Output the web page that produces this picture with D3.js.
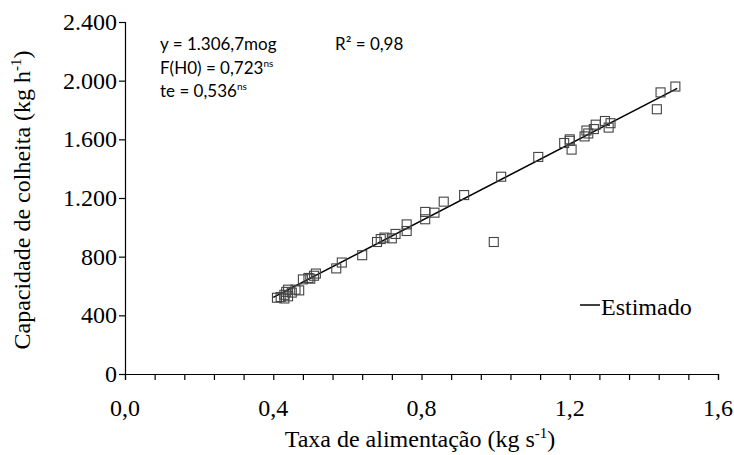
<!DOCTYPE html>
<html>
<head>
<meta charset="utf-8">
<script src="https://cdn.jsdelivr.net/npm/d3@7"></script>
<style>
  html, body { margin: 0; padding: 0; background: #fff; }
  svg { display: block; }
  .serif { font-family: "Liberation Serif", "Tinos", "Times New Roman", "DejaVu Serif", serif; }
  .sans { font-family: "Lato", "Open Sans", "Liberation Sans", sans-serif; }
</style>
</head>
<body>
<svg id="chart" width="734" height="455"></svg>
<script>
// Feed rate (kg s-1) and harvest capacity (kg h-1) observations
const feedRate = [
  0.41, 0.42, 0.43, 0.43, 0.435, 0.44, 0.44, 0.45, 0.46, 0.47,
  0.48, 0.495, 0.50, 0.51, 0.515, 0.57, 0.585, 0.64, 0.68, 0.69,
  0.70, 0.72, 0.73, 0.76, 0.76, 0.81, 0.81, 0.835, 0.86, 0.915,
  1.015, 0.995, 1.115, 1.185, 1.20, 1.20, 1.205, 1.24, 1.245, 1.25,
  1.265, 1.27, 1.295, 1.305, 1.31, 1.435, 1.445, 1.485
];
const capacity = [
  520, 525, 540, 515, 560, 530, 575, 555, 575, 570,
  645, 655, 650, 670, 685, 720, 760, 810, 900, 920,
  930, 925, 955, 975, 1020, 1055, 1105, 1100, 1175, 1220,
  1345, 900, 1480, 1575, 1600, 1590, 1530, 1620, 1660, 1640,
  1670, 1700, 1725, 1680, 1710, 1805, 1920, 1960
];
// Fitted model y = b * x over the observed range
const slope = 1306.7;
const fitRange = [0.40, 1.49];

const xTickLabels = ["0,0", "0,4", "0,8", "1,2", "1,6"];
const xLabelValues = [0, 0.4, 0.8, 1.2, 1.6];
const yTickLabels = ["0", "400", "800", "1.200", "1.600", "2.000", "2.400"];
const yTickValues = [0, 400, 800, 1200, 1600, 2000, 2400];

const svg = d3.select("#chart");
const plotLeft = 125, plotRight = 718, plotTop = 22, plotBottom = 374;

const x = d3.scaleLinear().domain([0, 1.6]).range([plotLeft, plotRight]);
const y = d3.scaleLinear().domain([0, 2400]).range([plotBottom, plotTop]);

// X axis: minor ticks every 0.08, labels every 0.4
const xMinor = d3.range(0, 21).map(i => i * 0.08);
const xAxis = d3.axisBottom(x).tickValues(xMinor).tickSize(6).tickFormat("");
const gx = svg.append("g").attr("transform", `translate(0,${plotBottom})`).call(xAxis);
gx.select(".domain").attr("stroke", "#000").attr("stroke-width", 1.2);
gx.selectAll(".tick line").attr("stroke", "#000").attr("stroke-width", 1.2);

svg.append("g").selectAll("text").data(xLabelValues).join("text")
  .attr("class", "serif")
  .attr("x", d => x(d)).attr("y", 416)
  .attr("text-anchor", "middle")
  .style("font-size", "24px").attr("fill", "#000")
  .text((d, i) => xTickLabels[i]);

// Y axis
const yAxis = d3.axisLeft(y).tickValues(yTickValues).tickSize(6).tickFormat("");
const gy = svg.append("g").attr("transform", `translate(${plotLeft},0)`).call(yAxis);
gy.select(".domain").attr("stroke", "#000").attr("stroke-width", 1.2);
gy.selectAll(".tick line").attr("stroke", "#000").attr("stroke-width", 1.2);

svg.append("g").selectAll("text").data(yTickValues).join("text")
  .attr("class", "serif")
  .attr("x", 117).attr("y", d => y(d) + 8)
  .attr("text-anchor", "end")
  .style("font-size", "24px").attr("fill", "#000")
  .text((d, i) => yTickLabels[i]);

// Axis titles
const xt = svg.append("text").attr("class", "serif")
  .attr("x", 420).attr("y", 447).attr("text-anchor", "middle")
  .style("font-size", "24px").attr("fill", "#000");
xt.append("tspan").text("Taxa de alimentação (kg s");
xt.append("tspan").attr("dy", -9).style("font-size", "15px").text("-1");
xt.append("tspan").attr("dy", 9).text(")");

const yt = svg.append("text").attr("class", "serif")
  .attr("transform", "translate(30,200) rotate(-90)").attr("text-anchor", "middle")
  .style("font-size", "24px").attr("fill", "#000");
yt.append("tspan").text("Capacidade de colheita (kg h");
yt.append("tspan").attr("dy", -9).style("font-size", "15px").text("-1");
yt.append("tspan").attr("dy", 9).text(")");

// Fitted line
svg.append("line")
  .attr("x1", x(fitRange[0])).attr("y1", y(slope * fitRange[0]))
  .attr("x2", x(fitRange[1])).attr("y2", y(slope * fitRange[1]))
  .attr("stroke", "#000").attr("stroke-width", 1.5);

// Observations as open squares
const s = 9;
svg.append("g").selectAll("rect").data(feedRate.map((v, i) => [v, capacity[i]])).join("rect")
  .attr("x", d => x(d[0]) - s / 2).attr("y", d => y(d[1]) - s / 2)
  .attr("width", s).attr("height", s)
  .attr("fill", "none").attr("stroke", "#444").attr("stroke-width", 1.1);

// Model statistics
const ann = svg.append("g").attr("class", "sans").style("font-size", "17px").attr("fill", "#000");
ann.append("text").attr("x", 160).attr("y", 50).text("y = 1.306,7mog");
ann.append("text").attr("x", 335).attr("y", 50).text("R² = 0,98");
const f = ann.append("text").attr("x", 160).attr("y", 74);
f.append("tspan").text("F(H0) = 0,723");
f.append("tspan").attr("dy", -7).style("font-size", "10px").text("ns");
const te = ann.append("text").attr("x", 160).attr("y", 97);
te.append("tspan").text("te = 0,536");
te.append("tspan").attr("dy", -7).style("font-size", "10px").text("ns");

// Legend
svg.append("line").attr("x1", 580).attr("x2", 600).attr("y1", 305).attr("y2", 305)
  .attr("stroke", "#000").attr("stroke-width", 1.5);
svg.append("text").attr("class", "serif").attr("x", 601).attr("y", 315)
  .style("font-size", "24px").attr("fill", "#000")
  .text("Estimado");
</script>
</body>
</html>
